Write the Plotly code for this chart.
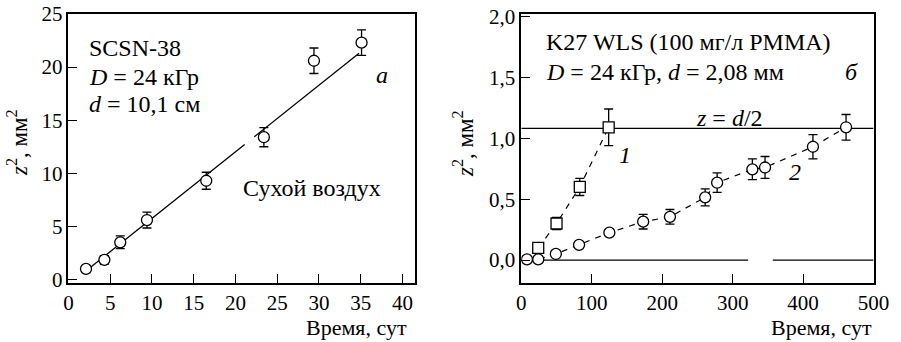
import plotly.graph_objects as go

# ---------- data: panel a (SCSN-38, dry air) ----------
t_a = [2.1, 4.3, 6.2, 9.4, 16.5, 23.4, 29.4, 35.1]
z2_a = [1.0, 1.85, 3.5, 5.6, 9.3, 13.4, 20.6, 22.3]
err_a = [0.3, 0.4, 0.6, 0.75, 0.8, 0.9, 1.2, 1.2]
fit_slope_a = 0.627
fit_intercept_a = -0.51
fit_segments_a = [(1.7, 21.1), (22.25, 34.8)]

# ---------- data: panel б (K27 WLS) ----------
t_1 = [24, 50, 83, 124]
z2_1 = [0.10, 0.30, 0.60, 1.09]
err_1 = [0.0, 0.05, 0.07, 0.15]

t_2 = [8, 24, 49, 82, 125, 173, 211, 261, 278, 328, 346, 414, 461]
z2_2 = [0.005, 0.005, 0.05, 0.125, 0.225, 0.315, 0.355, 0.515, 0.635, 0.745, 0.76, 0.93, 1.09]
err_2 = [0, 0, 0, 0, 0, 0.06, 0.06, 0.07, 0.08, 0.085, 0.09, 0.10, 0.105]

d_mm = 2.08
half_d_z2 = (d_mm / 2) ** 2
baseline_segments = [(26, 322), (357, 500)]

ticks_a_x = [0, 5, 10, 15, 20, 25, 30, 35, 40]
ticks_a_y = [0, 5, 10, 15, 20, 25]
ticks_b_x = [0, 100, 200, 300, 400, 500]
ticks_b_y = [0.0, 0.5, 1.0, 1.5, 2.0]

FONT = "'Liberation Serif', 'Times New Roman', serif"
BLACK = "black"
FS_TICK = 21
FS_TEXT = 24

fig = go.Figure()

for x0, x1 in fit_segments_a:
    fig.add_trace(go.Scatter(
        x=[x0, x1], y=[fit_slope_a * x0 + fit_intercept_a, fit_slope_a * x1 + fit_intercept_a],
        mode="lines", line=dict(color=BLACK, width=1.3), xaxis="x", yaxis="y",
        showlegend=False, hoverinfo="skip"))

fig.add_trace(go.Scatter(
    x=t_a, y=z2_a, mode="markers", xaxis="x", yaxis="y",
    marker=dict(symbol="circle", size=11, color="white", line=dict(color=BLACK, width=1.3)),
    error_y=dict(type="data", array=err_a, color=BLACK, thickness=1.3, width=4.5),
    showlegend=False))

for x0, x1 in baseline_segments:
    fig.add_trace(go.Scatter(
        x=[x0, x1], y=[0, 0], mode="lines", line=dict(color=BLACK, width=1.3),
        xaxis="x2", yaxis="y2", showlegend=False, hoverinfo="skip"))

fig.add_trace(go.Scatter(
    x=[0, 500], y=[half_d_z2, half_d_z2], mode="lines", line=dict(color=BLACK, width=1.3),
    xaxis="x2", yaxis="y2", showlegend=False, hoverinfo="skip"))

fig.add_trace(go.Scatter(
    x=t_2, y=z2_2, mode="lines+markers", xaxis="x2", yaxis="y2",
    line=dict(color=BLACK, width=1.2, dash="6px,6px"),
    marker=dict(symbol="circle", size=11, color="white", line=dict(color=BLACK, width=1.3)),
    error_y=dict(type="data", array=err_2, color=BLACK, thickness=1.3, width=4.5),
    showlegend=False))

fig.add_trace(go.Scatter(
    x=t_1, y=z2_1, mode="lines+markers", xaxis="x2", yaxis="y2",
    line=dict(color=BLACK, width=1.2, dash="6px,6px"),
    marker=dict(symbol="square", size=11, color="white", line=dict(color=BLACK, width=1.3)),
    error_y=dict(type="data", array=err_1, color=BLACK, thickness=1.3, width=4.5),
    showlegend=False))

axis_common = dict(showline=True, linecolor=BLACK, linewidth=1.5, mirror=True,
                   ticks="inside", ticklen=9, tickwidth=1.3, tickcolor=BLACK,
                   showgrid=False, zeroline=False, automargin=False,
                   tickfont=dict(family=FONT, size=FS_TICK, color=BLACK))

fig.update_layout(
    width=901, height=342, autosize=False,
    margin=dict(l=0, r=0, t=0, b=0, pad=0, autoexpand=False),
    paper_bgcolor="white", plot_bgcolor="white",
    separators=", ",
    font=dict(family=FONT, size=FS_TICK, color=BLACK),
    xaxis=dict(domain=[0.076, 0.4606], range=[0, 41.5], tickvals=ticks_a_x, anchor="y", **axis_common),
    yaxis=dict(domain=[0.1734, 0.959], range=[-0.3, 25], tickvals=ticks_a_y, anchor="x", **axis_common),
    xaxis2=dict(domain=[0.5786, 0.9695], range=[0, 500], tickvals=ticks_b_x, anchor="y2", **axis_common),
    yaxis2=dict(domain=[0.1734, 0.959], range=[-0.186, 2.02], tickvals=ticks_b_y,
                tickformat=".1f", anchor="x2", **axis_common),
)

ann = []
def txt(text, x, y, xref, yref, xanchor="left", size=FS_TEXT, angle=0):
    ann.append(dict(text=text, x=x, y=y, xref=xref, yref=yref, xanchor=xanchor,
                    yanchor="middle", showarrow=False, textangle=angle,
                    font=dict(family=FONT, size=size, color=BLACK)))

txt("SCSN-38", 2.25, 21.8, "x", "y")
txt("<i>D</i> = 24 кГр", 2.25, 19.1, "x", "y")
txt("<i>d</i> = 10,1 см", 2.25, 16.5, "x", "y")
txt("<i>a</i>", 37.5, 19.3, "x", "y", xanchor="center")
txt("Сухой воздух", 20.7, 8.6, "x", "y")
txt("K27 WLS (100 мг/л PMMA)", 31.5, 1.79, "x2", "y2")
txt("<i>D</i> = 24 кГр, <i>d</i> = 2,08 мм", 31.5, 1.543, "x2", "y2")
txt("<i>б</i>", 468.7, 1.54, "x2", "y2", xanchor="center")
txt("<i>z</i> = <i>d</i>/2", 296, 1.17, "x2", "y2", xanchor="center")
txt("<i>1</i>", 147, 0.86, "x2", "y2", xanchor="center")
txt("<i>2</i>", 388, 0.72, "x2", "y2", xanchor="center")
txt("Время, сут", 409 / 901, 1 - 327 / 342, "paper", "paper", xanchor="right", size=22)
txt("Время, сут", 874 / 901, 1 - 327 / 342, "paper", "paper", xanchor="right", size=22)
txt("<i>z</i><sup>2</sup>, мм<sup>2</sup>", 17 / 901, 1 - 143 / 342, "paper", "paper", xanchor="center", size=23, angle=-90)
txt("<i>z</i><sup>2</sup>, мм<sup>2</sup>", 463 / 901, 1 - 144 / 342, "paper", "paper", xanchor="center", size=23, angle=-90)

fig.update_layout(annotations=ann)
fig.write_html("out.html")
